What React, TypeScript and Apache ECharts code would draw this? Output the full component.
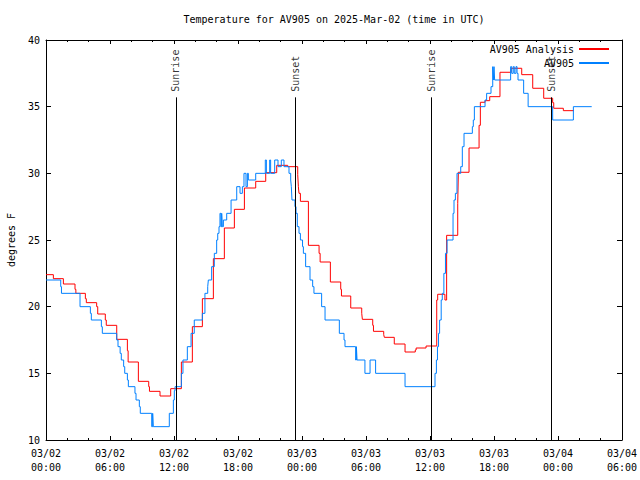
import React, { useEffect, useRef } from 'react';
import * as echarts from 'echarts';

// Hours since 2025-03-02 00:00 UTC
const xTickLabels = [
  '03/02\n00:00', '03/02\n06:00', '03/02\n12:00', '03/02\n18:00',
  '03/03\n00:00', '03/03\n06:00', '03/03\n12:00', '03/03\n18:00',
  '03/04\n00:00', '03/04\n06:00',
];

const sunEventNames = ['Sunrise', 'Sunset', 'Sunrise', 'Sunset'];
const sunEventHours = [12.17, 23.37, 36.12, 47.39];

// [hour, degrees F] — value holds until next change
const analysisSteps: [number, number][] = [
  [0, 22.4], [0.69, 22.1], [1.63, 21.7], [2.72, 21.3], [2.8, 21.0],
  [3.69, 20.6], [3.78, 20.3], [4.75, 20.0], [4.85, 19.45], [5.56, 19.0],
  [5.65, 18.6], [6.63, 17.55], [7.63, 16.7], [7.7, 15.85], [8.66, 14.4],
  [9.63, 14.0], [9.7, 13.65], [10.69, 13.3], [11.69, 13.85], [12.69, 15.85],
  [13.72, 18.5], [14.66, 20.6], [15.69, 23.6], [16.72, 25.9], [17.66, 27.3],
  [18.6, 28.9], [19.66, 29.4], [20.6, 30.05], [21.63, 30.6], [22.66, 30.5],
  [23.6, 29.9], [23.66, 29.0], [23.72, 28.5], [23.85, 27.9], [24.6, 24.6],
  [25.6, 24.0], [25.7, 23.35], [26.66, 21.85], [27.63, 21.3], [27.7, 20.8],
  [28.57, 19.9], [29.6, 19.5], [29.66, 19.05], [30.63, 18.6], [30.7, 18.15],
  [31.66, 17.9], [31.72, 17.7], [32.65, 17.2], [33.66, 16.6], [34.62, 16.75],
  [34.7, 16.9], [35.63, 17.05], [36.63, 20.5], [36.72, 20.93], [37.4, 20.5],
  [37.56, 25.35], [38.6, 27.75], [38.66, 30.08], [39.66, 31.9], [40.6, 33.6],
  [40.72, 35.33], [41.16, 35.45], [41.6, 35.75], [42.56, 37.58], [43.6, 37.88],
  [44.6, 37.4], [45.63, 36.38], [46.66, 35.63], [47.5, 35.3], [47.6, 34.88],
  [48.5, 34.7], [49.5, 34.7],
];

const observedSteps: [number, number][] = [
  [0, 22.0], [1.38, 21.5], [1.45, 21.0], [3.19, 20.0], [4.16, 19.5],
  [4.25, 19.0], [5.19, 18.5], [5.28, 18.0], [6.63, 17.5], [6.75, 17.0],
  [6.95, 16.5], [7.06, 16.0], [7.28, 15.5], [7.38, 15.0], [7.63, 14.5],
  [7.72, 14.0], [8.34, 13.5], [8.44, 13.0], [8.75, 12.5], [8.84, 12.0],
  [9.91, 11.0], [10.0, 12.0], [10.06, 11.0], [11.56, 12.0], [11.94, 13.0],
  [12.03, 13.7], [12.1, 14.0], [12.69, 15.0], [12.84, 16.0], [13.25, 17.0],
  [13.6, 18.0], [13.9, 19.0], [14.66, 19.5], [14.9, 21.0], [15.16, 21.5],
  [15.22, 22.0], [15.53, 23.0], [15.78, 24.0], [16.0, 25.0], [16.1, 25.5],
  [16.22, 26.0], [16.31, 27.0], [16.4, 26.0], [16.47, 27.0], [16.53, 26.0],
  [16.63, 26.5], [16.94, 27.0], [17.35, 28.0], [17.88, 29.0], [18.19, 28.5],
  [18.41, 29.0], [18.56, 30.0], [18.75, 29.0], [18.88, 30.0], [18.97, 29.5],
  [19.66, 30.0], [20.56, 31.0], [20.66, 30.0], [20.97, 31.0], [21.06, 30.0],
  [21.44, 31.0], [21.75, 30.5], [22.06, 31.0], [22.31, 30.5], [22.78, 30.0],
  [22.94, 29.5], [23.0, 29.0], [23.06, 28.0], [23.34, 27.5], [23.44, 27.0],
  [23.56, 26.0], [23.72, 25.5], [23.85, 25.0], [24.05, 24.5], [24.13, 24.0],
  [24.34, 23.0], [24.75, 22.0], [25.0, 21.5], [25.12, 21.0], [25.84, 20.0],
  [26.16, 19.0], [27.5, 18.0], [27.94, 17.5], [28.03, 17.0], [29.03, 16.0],
  [29.1, 17.0], [29.16, 16.0], [29.9, 15.0], [30.38, 16.0], [30.9, 15.0],
  [33.66, 14.0], [36.47, 15.0], [36.6, 16.0], [36.7, 17.0], [36.8, 18.0],
  [36.9, 19.0], [37.05, 20.5], [37.15, 21.0], [37.3, 22.5], [37.45, 24.0],
  [37.6, 25.0], [38.16, 27.0], [38.25, 28.0], [38.38, 28.5], [38.53, 30.0],
  [38.88, 30.5], [39.03, 32.0], [39.19, 33.0], [39.97, 33.5], [40.06, 34.0],
  [40.16, 35.0], [41.16, 35.5], [41.31, 36.0], [41.72, 36.5], [41.88, 38.0],
  [41.94, 37.0], [42.0, 38.0], [42.06, 37.0], [43.56, 38.0], [43.66, 37.5],
  [43.8, 38.0], [43.9, 37.5], [44.06, 38.0], [44.16, 37.5], [44.25, 37.0],
  [44.78, 36.0], [45.2, 35.0], [47.5, 34.0], [49.44, 35.0], [51.16, 35.0],
];

const FONT = 'DejaVu Sans Mono';

export default function App() {
  const ref = useRef<HTMLDivElement>(null);
  useEffect(() => {
    const chart = echarts.init(ref.current!, null, { renderer: 'svg' });
    const black = '#000';
    const xCommon = {
      type: 'value',
      min: 0,
      max: 54,
      interval: 6,
      axisLine: { show: true, onZero: false, lineStyle: { color: black, width: 1 } },
      axisTick: { show: true, inside: true, length: 4, lineStyle: { color: black } },
      minorTick: { show: true, splitNumber: 3, length: 2, lineStyle: { color: black } },
      splitLine: { show: false },
      minorSplitLine: { show: false },
    };
    const yCommon = {
      type: 'value',
      min: 10,
      max: 40,
      interval: 5,
      axisLine: { show: true, onZero: false, lineStyle: { color: black, width: 1 } },
      axisTick: { show: true, inside: true, length: 5, lineStyle: { color: black } },
      splitLine: { show: false },
    };
    const legendCommon = {
      right: 30,
      padding: 0,
      orient: 'vertical',
      align: 'right',
      itemWidth: 30,
      itemHeight: 10,
      itemStyle: { opacity: 0 },
      textStyle: { fontFamily: FONT, fontSize: 10, color: black },
    };
    chart.setOption({
      animation: false,
      backgroundColor: '#fff',
      title: {
        text: 'Temperature for AV905 on 2025-Mar-02 (time in UTC)',
        left: 334,
        top: 14,
        padding: 0,
        textAlign: 'center',
        textStyle: { fontFamily: FONT, fontSize: 10, fontWeight: 'normal', color: black },
      },
      legend: [
        { ...legendCommon, data: ['AV905 Analysis'], top: 44 },
        { ...legendCommon, data: ['AV905'], top: 58 },
      ],
      grid: {
        left: 46,
        right: 18,
        top: 40,
        bottom: 40,
        containLabel: false,
        outerBoundsMode: 'none',
      },
      xAxis: [
        {
          ...xCommon,
          position: 'bottom',
          axisLabel: {
            formatter: (v: number) => xTickLabels[Math.round(v / 6)] ?? '',
            margin: 6,
            fontFamily: FONT,
            fontSize: 10,
            lineHeight: 14,
            color: black,
          },
        },
        { ...xCommon, position: 'top', axisLabel: { show: false } },
      ],
      yAxis: [
        {
          ...yCommon,
          position: 'left',
          name: 'degrees F',
          nameLocation: 'middle',
          nameGap: 30,
          nameRotate: 90,
          nameTextStyle: { fontFamily: FONT, fontSize: 10, color: black },
          axisLabel: { margin: 6, fontFamily: FONT, fontSize: 10, color: black },
        },
        { ...yCommon, position: 'right', axisLabel: { show: false } },
      ],
      series: [
        {
          name: 'AV905 Analysis',
          type: 'line',
          step: 'end',
          data: analysisSteps,
          symbol: 'none',
          lineStyle: { color: '#ff0000', width: 1 },
          itemStyle: { color: '#ff0000' },
          z: 2,
        },
        {
          name: 'AV905',
          type: 'line',
          step: 'end',
          data: observedSteps,
          symbol: 'none',
          lineStyle: { color: '#0080ff', width: 1 },
          itemStyle: { color: '#0080ff' },
          z: 3,
        },
        {
          name: 'sun',
          type: 'scatter',
          silent: true,
          symbolSize: 1,
          itemStyle: { color: 'rgba(0,0,0,0)' },
          data: sunEventHours.map((t, i) => [t, 36.12, sunEventNames[i]]),
          label: {
            show: true,
            formatter: (p: any) => p.value[2],
            rotate: 90,
            position: [0.5, 0.5],
            align: 'left',
            verticalAlign: 'middle',
            fontFamily: FONT,
            fontSize: 10,
            color: black,
          },
          markLine: {
            silent: true,
            symbol: ['none', 'none'],
            label: { show: false },
            lineStyle: { color: black, type: 'solid', width: 1 },
            data: sunEventHours.map((t) => [{ coord: [t, 10] }, { coord: [t, 35.7] }]),
          },
          z: 4,
        },
      ],
    });
    return () => chart.dispose();
  }, []);
  return (
    <div
      ref={ref}
      style={{ position: 'absolute', left: 0, top: 0, width: 640, height: 480, background: '#fff' }}
    />
  );
}
